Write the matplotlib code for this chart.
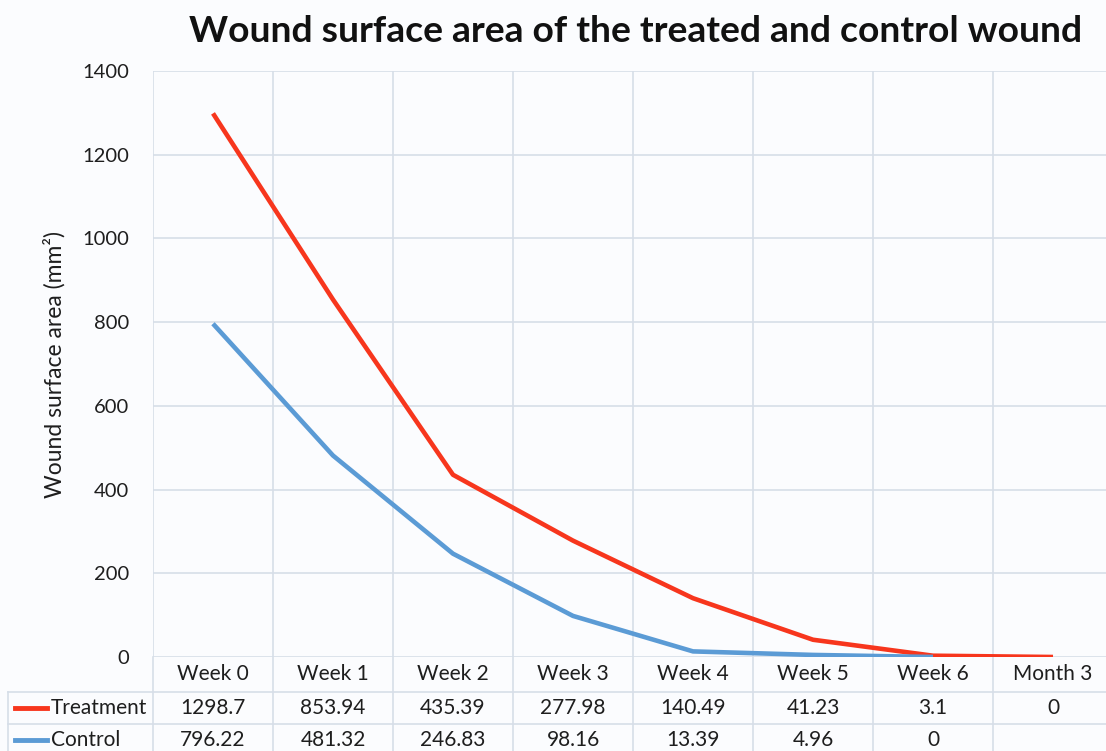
import numpy as np
import matplotlib
matplotlib.use("Agg")
import matplotlib.pyplot as plt
from matplotlib.transforms import blended_transform_factory
from matplotlib.lines import Line2D

categories = ["Week 0", "Week 1", "Week 2", "Week 3", "Week 4", "Week 5", "Week 6", "Month 3"]
treatment = [1298.7, 853.94, 435.39, 277.98, 140.49, 41.23, 3.1, 0]
control = [796.22, 481.32, 246.83, 98.16, 13.39, 4.96, 0, None]
treatment_labels = ["1298.7", "853.94", "435.39", "277.98", "140.49", "41.23", "3.1", "0"]
control_labels = ["796.22", "481.32", "246.83", "98.16", "13.39", "4.96", "0", ""]
yticks = [0, 200, 400, 600, 800, 1000, 1200, 1400]

RED = "#f7361d"
BLUE = "#5b9bd5"
GRID = "#d6dee8"
BG = "#fbfcfe"
TXT = "#1e1e1e"

plt.rcParams["font.family"] = ["Lato", "DejaVu Sans"]

W, H = 1106, 751
fig = plt.figure(figsize=(W / 100, H / 100), dpi=100, facecolor=BG)


def fx(x):
    return x / W


def fy(y):
    return 1 - y / H


left, right, top, bottom = 153, 1113, 71, 657
ax = fig.add_axes([fx(left), fy(bottom), fx(right - left), (bottom - top) / H])
ax.set_facecolor(BG)

x = np.arange(len(categories))
ax.plot(x, treatment, color=RED, lw=3.3, solid_capstyle="butt", zorder=3)
ctrl = np.array([np.nan if v is None else v for v in control], dtype=float)
ax.plot(x, ctrl, color=BLUE, lw=3.3, solid_capstyle="butt", zorder=3)

ax.set_xlim(-0.5, len(categories) - 0.5)
ax.set_ylim(0, 1400)
ax.set_yticks(yticks)
ax.set_yticklabels([str(v) for v in yticks], fontsize=14.5, color=TXT)
ax.set_xticks(np.arange(-0.5, len(categories)))
ax.set_xticklabels([])
ax.tick_params(length=0, pad=17)
ax.grid(True, color=GRID, lw=1.2)
for s in ax.spines.values():
    s.set_visible(False)

ax.set_ylabel("Wound surface area (mm²)", fontsize=16.5, color=TXT, labelpad=12)

fig.text(fx(636), fy(31), "Wound surface area of the treated and control wound",
         ha="center", va="center", fontsize=26.8, fontweight="bold", color="#111111")

# data table below the axis
tr = blended_transform_factory(ax.transData, fig.transFigure)
row_lines = [657, 692, 724, 756]
row_centers = [674, 708, 740]

for yb in row_lines[1:]:
    fig.add_artist(Line2D([fx(8), fx(right)], [fy(yb), fy(yb)], color=GRID, lw=1.2))
fig.add_artist(Line2D([fx(8), fx(8)], [fy(692), fy(756)], color=GRID, lw=1.2))
for xb in np.arange(-0.5, len(categories)):
    ax.add_artist(Line2D([xb, xb], [fy(657), fy(756)], color=GRID, lw=1.2,
                         transform=tr, clip_on=False))

for i, c in enumerate(categories):
    ax.text(i, fy(row_centers[0]), c, transform=tr, ha="center", va="center",
            fontsize=15, color=TXT)
    ax.text(i, fy(row_centers[1]), treatment_labels[i], transform=tr, ha="center",
            va="center", fontsize=15, color=TXT)
    ax.text(i, fy(row_centers[2]), control_labels[i], transform=tr, ha="center",
            va="center", fontsize=15, color=TXT)

for name, color, yc in [("Treatment", RED, row_centers[1]), ("Control", BLUE, row_centers[2])]:
    fig.add_artist(Line2D([fx(15), fx(47)], [fy(yc), fy(yc)], color=color, lw=3.5))
    fig.text(fx(51), fy(yc), name, ha="left", va="center", fontsize=15, color=TXT)

fig.savefig("out.png", dpi=100, facecolor=BG)
